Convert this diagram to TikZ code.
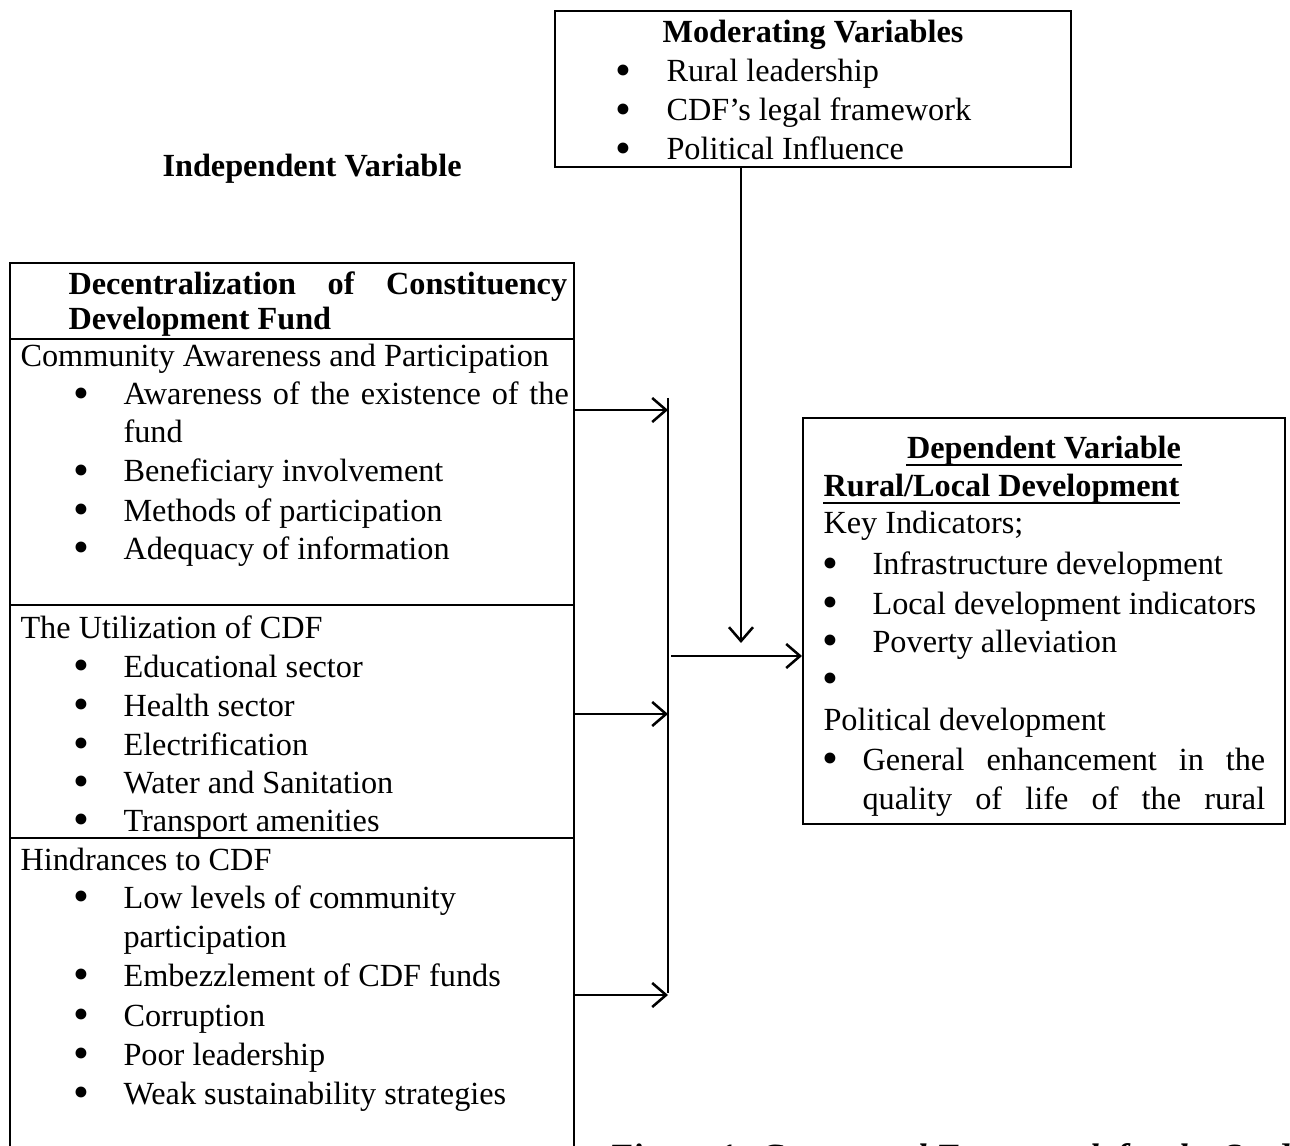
\documentclass[tikz,border=0pt]{standalone}
\usepackage{fontspec}
\setmainfont{Liberation Serif}
\usetikzlibrary{arrows.meta,fit}
\begin{document}
\begin{tikzpicture}[x=0.375pt,y=-0.375pt,
  txt/.style={inner sep=0pt, anchor=base west, font=\fontsize{12.1}{14}\selectfont},
  bld/.style={inner sep=0pt, anchor=base west, font=\fontsize{12.1}{14}\selectfont\bfseries},
  ctr/.style={inner sep=0pt, anchor=base, font=\fontsize{12.1}{14}\selectfont\bfseries},
  bul/.style={inner sep=0pt, anchor=base, yshift=-1.3pt, font=\fontsize{17}{17}\selectfont},
  boxline/.style={line width=0.75pt},
  boxnode/.style={inner sep=0pt, draw, boxline},
  arr/.style={line width=0.95pt, -{Straight Barb[length=5.2pt,width=9pt,line width=0.95pt]}},
  bus/.style={line width=0.4pt},
  uline/.style={line width=0.75pt}]
\clip (0,0) rectangle (1290,1146);
\fill[white] (0,0) rectangle (1290,1146);

% ---------- boxes ----------
\coordinate (m1) at (555,11); \coordinate (m2) at (1071,167);
\node[boxnode, fit=(m1)(m2)] (mod) {};
\coordinate (r1) at (803,418); \coordinate (r2) at (1285,824);
\node[boxnode, fit=(r1)(r2)] (dep) {};
\coordinate (l1) at (10,263); \coordinate (l2) at (574,1180);
\node[boxnode, fit=(l1)(l2)] (ind) {};
\coordinate (sep1) at (10,339);
\coordinate (sep2) at (10,605);
\coordinate (sep3) at (10,838);
\draw[boxline] (sep1) -- (sep1 -| ind.east);
\draw[boxline] (sep2) -- (sep2 -| ind.east);
\draw[boxline] (sep3) -- (sep3 -| ind.east);

% ---------- moderating variables ----------
\node[ctr] (modt) at (813,43) {Moderating Variables};
\node[bul] (mb1) at (623,82) {•};
\node[txt] (mt1) at (666,82) {Rural leadership};
\node[bul] (mb2) at (623,121) {•};
\node[txt] (mt2) at (666,121) {CDF’s legal framework};
\node[bul] (mb3) at (623,160) {•};
\node[txt] (mt3) at (666,160) {Political Influence};

% ---------- independent variable ----------
\node[bld] (indt) at (162,177) {Independent Variable};
\node[bld] (h1) at (68,295) {\makebox[187pt][s]{Decentralization of Constituency}};
\node[bld] (h2) at (68,330) {Development Fund};

\node[txt] (c0) at (20,367) {Community Awareness and Participation};
\node[bul] (cb1) at (81,405) {•};
\node[txt] (c1) at (123,405) {\makebox[167pt][s]{Awareness of the existence of the}};
\node[txt] (c1b) at (123,443) {fund};
\node[bul] (cb2) at (81,482) {•};
\node[txt] (c2) at (123,482) {Beneficiary involvement};
\node[bul] (cb3) at (81,521) {•};
\node[txt] (c3) at (123,521) {Methods of participation};
\node[bul] (cb4) at (81,559) {•};
\node[txt] (c4) at (123,559) {Adequacy of information};

\node[txt] (u0) at (20,638) {The Utilization of CDF};
\node[bul] (ub1) at (81,677) {•};
\node[txt] (u1) at (123,677) {Educational sector};
\node[bul] (ub2) at (81,716) {•};
\node[txt] (u2) at (123,716) {Health sector};
\node[bul] (ub3) at (81,755) {•};
\node[txt] (u3) at (123,755) {Electrification};
\node[bul] (ub4) at (81,793) {•};
\node[txt] (u4) at (123,793) {Water and Sanitation};
\node[bul] (ub5) at (81,831) {•};
\node[txt] (u5) at (123,831) {Transport amenities};

\node[txt] (d0) at (20,870) {Hindrances to CDF};
\node[bul] (db1) at (81,908) {•};
\node[txt] (d1) at (123,908) {Low levels of community};
\node[txt] (d1b) at (123,947) {participation};
\node[bul] (db2) at (81,986) {•};
\node[txt] (d2) at (123,986) {Embezzlement of CDF funds};
\node[bul] (db3) at (81,1026) {•};
\node[txt] (d3) at (123,1026) {Corruption};
\node[bul] (db4) at (81,1065) {•};
\node[txt] (d4) at (123,1065) {Poor leadership};
\node[bul] (db5) at (81,1104) {•};
\node[txt] (d5) at (123,1104) {Weak sustainability strategies};

% ---------- dependent variable ----------
\node[ctr] (dvt) at (1044,459) {Dependent Variable};
\draw[uline] ([yshift=-2.2pt]dvt.base west) -- ([yshift=-2.2pt]dvt.base east);
\node[bld] (rlt) at (823,497) {Rural/Local Development};
\draw[uline] ([yshift=-2.2pt]rlt.base west) -- ([yshift=-2.2pt]rlt.base east);
\node[txt] (key) at (823,534) {Key Indicators;};
\node[bul] (rb1) at (830,575) {•};
\node[txt] (rt1) at (872,575) {Infrastructure development};
\node[bul] (rb2) at (830,614) {•};
\node[txt] (rt2) at (872,614) {Local development indicators};
\node[bul] (rb3) at (830,652) {•};
\node[txt] (rt3) at (872,652) {Poverty alleviation};
\node[bul] (rb4) at (830,690) {•};
\node[txt] (pol) at (823,730) {Political development};
\node[bul] (rb5) at (830,770) {•};
\node[txt] (rt5) at (862,770) {\makebox[151pt][s]{General enhancement in the}};
\node[txt] (rt6) at (862,809) {\makebox[151pt][s]{quality of life of the rural}};

% ---------- connectors ----------
\coordinate (bustop) at (668,398);
\coordinate (busbot) at (668,993);
\draw[bus] (bustop) -- (busbot);
\coordinate (p1) at (668,410);
\coordinate (p2) at (668,714);
\coordinate (p3) at (668,995);
\draw[arr] (ind.east |- p1) -- (p1);
\draw[arr] (ind.east |- p2) -- (p2);
\draw[arr] (ind.east |- p3) -- (p3);
\coordinate (q) at (671,656);
\draw[arr] (q) -- (dep.west |- q);
\coordinate (dn) at (741,643);
\draw[arr] (mod.south -| dn) -- (dn);

% ---------- caption ----------
\node[txt, font=\fontsize{13.3}{15}\selectfont\bfseries\itshape] (cap) at (608,1168) {Figure 1: Conceptual Framework for the Study};
\end{tikzpicture}
\end{document}
